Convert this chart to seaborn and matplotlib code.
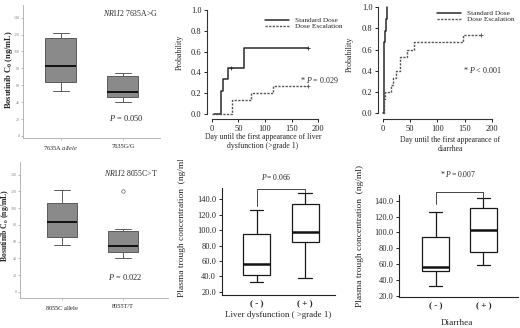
import numpy as np
import pandas as pd
import matplotlib
matplotlib.use("Agg")
import matplotlib.pyplot as plt
from matplotlib.lines import Line2D
from matplotlib.transforms import Bbox
import seaborn as sns

# --- data ---
# left boxes: five-number summaries (min, q1, median, q3, max), ng/mL
groups_7635 = ["7635A allele", "7635G/G"]
c0_7635A = [53, 64, 83, 116, 122]
c0_7635GG = [40, 46, 52, 71, 75]

groups_8055 = ["8055C allele", "8055T/T"]
c0_8055C = [56, 66, 83, 106.6, 122]
c0_8055TT = [40.7, 44, 47, 51, 54.7, 65, 72.6, 75, 120]   # one outlier

# Kaplan-Meier, liver dysfunction
liver_std_days = [5, 17.5, 22, 30, 61, 180]
liver_std_prob = [0, 0.222, 0.333, 0.444, 0.63, 0.63]
liver_std_cens = [36, 180]
liver_esc_days = [1, 37.5, 74, 115, 180]
liver_esc_prob = [0, 0.133, 0.2, 0.267, 0.267]

# Kaplan-Meier, diarrhea
diar_std_days = [0, 2.5, 4.5, 6, 8.5]
diar_std_prob = [0, 0.667, 0.778, 0.889, 1.0]
diar_esc_days = [0, 3, 5, 16, 19, 24, 32, 45, 58, 148, 180]
diar_esc_prob = [0, 0.133, 0.2, 0.267, 0.333, 0.4, 0.533, 0.6, 0.667, 0.733, 0.733]

# trough concentration boxes (min, q1, median, q3, max)
grade_labels = ["( - )", "( + )"]
liver_neg = [32, 41.7, 55.6, 95, 126]
liver_pos = [38, 84.5, 97, 134, 148.6]
diar_neg = [32.6, 51.5, 56, 94, 125.4]
diar_pos = [58.7, 75, 103, 130.4, 143.4]

sns.set_style("ticks")
plt.rcParams["font.family"] = ["Liberation Serif", "DejaVu Serif"]
plt.rcParams["mathtext.fontset"] = "custom"
plt.rcParams["mathtext.rm"] = "Liberation Serif"
plt.rcParams["mathtext.it"] = "Liberation Serif:italic"
plt.rcParams["mathtext.bf"] = "Liberation Serif:bold"

W, H = 520, 328
fig = plt.figure(figsize=(W / 100, H / 100), dpi=100)


def px_axes(l, t, r, b):
    return fig.add_axes([l / W, 1 - b / H, (r - l) / W, (b - t) / H])


def ftext(x, y, s, **kw):
    return fig.text(x / W, 1 - y / H, s, **kw)


def long_df(names, arrays):
    g, v = [], []
    for n, a in zip(names, arrays):
        g += [n] * len(a)
        v += list(a)
    return pd.DataFrame({"group": g, "value": v})


# ---------- left: grey SPSS-style boxes ----------
def grey_box(ax, names, arrays, xlim, ylim, ticklabels):
    sns.boxplot(data=long_df(names, arrays), x="group", y="value", order=names,
                ax=ax, color="#8a8a8a", saturation=1, width=0.5,
                linecolor="#5a5a5a", linewidth=0.7, fliersize=2.5,
                medianprops=dict(color="#111111", linewidth=1.4),
                flierprops=dict(marker="o", markerfacecolor="none",
                                markeredgecolor="#666666", markeredgewidth=0.5))
    ax.set_xlim(*xlim)
    ax.set_ylim(*ylim)
    ax.set_yticks(range(0, 141, 20))
    ax.set_xticks([0, 1])
    ax.set_xticklabels(ticklabels)
    ax.set_xlabel("")
    ax.set_ylabel("")
    for s in ["top", "right"]:
        ax.spines[s].set_visible(False)
    for s in ["left", "bottom"]:
        ax.spines[s].set_color("#aaaaaa")
        ax.spines[s].set_linewidth(0.6)
    ax.tick_params(axis="y", labelsize=3.0, length=1.5, width=0.4,
                   colors="#888888", pad=0.6)
    ax.tick_params(axis="x", labelsize=4.6, length=1.5, width=0.4,
                   color="#999999", labelcolor="#222222", pad=3)


axA = px_axes(23, 5, 160, 138)
grey_box(axA, groups_7635, [c0_7635A, c0_7635GG], (-0.613, 1.6), (-2.4, 155),
         ["7635A $\\mathit{allele}$", "7635G/G"])
axA.text(1.13, 145.6, "$\\mathit{NR1I2}$ 7635A>G", ha="center", va="center",
         fontsize=5.6)
axA.text(1.05, 21.3, "$\\mathit{P}$ = 0.050", ha="center", va="center",
         fontsize=6)

axB = px_axes(20, 162, 168, 298)
grey_box(axB, groups_8055, [c0_8055C, c0_8055TT], (-0.69, 1.74), (-7.5, 155.3),
         ["8055$\\mathit{C}$ allele", "8055T/T"])
axB.text(1.13, 142, "$\\mathit{NR1I2}$ 8055C>T", ha="center", va="center",
         fontsize=5.6)
axB.text(1.03, 18, "$\\mathit{P}$ = 0.022", ha="center", va="center",
         fontsize=6)

ftext(9, 70, "Bosutinib C$_\\mathbf{0}$ (ng/mL)", rotation=90, ha="center",
      va="center", fontsize=6, fontweight="bold")
ftext(5, 225, "Bosutinib C$_\\mathbf{0}$ (ng/mL)", rotation=90, ha="center",
      va="center", fontsize=5.6, fontweight="bold")

# ---------- middle/right top: Kaplan-Meier ----------
std_kw = dict(color="#2a2a2a", linewidth=1.1, linestyle="-")
esc_kw = dict(color="#555555", linewidth=1.0, linestyle=(0, (1.6, 1.0)))


def km_axes(ax, xlim, ylim):
    ax.set_xlim(*xlim)
    ax.set_ylim(*ylim)
    ax.set_xticks(range(0, 201, 50))
    ax.set_yticks(np.arange(0, 1.01, 0.2))
    ax.set_yticklabels([f"{v:.1f}" for v in np.arange(0, 1.01, 0.2)])
    for s in ["top", "right"]:
        ax.spines[s].set_visible(False)
    for s in ["left", "bottom"]:
        ax.spines[s].set_color("#333333")
        ax.spines[s].set_linewidth(0.8)
    ax.spines["bottom"].set_bounds(0, 200)
    ax.spines["left"].set_bounds(0, 1)
    ax.tick_params(labelsize=6, length=2.5, width=0.7, pad=1.5, colors="#222222")
    ax.set_xlabel("")
    ax.set_ylabel("")


def km_legend(ax, anchor):
    handles = [Line2D([], [], **std_kw), Line2D([], [], **esc_kw)]
    ax.legend(handles, ["Standard Dose", "Dose Escalation"], loc="upper left",
              bbox_to_anchor=anchor, frameon=False, fontsize=5.2,
              handlelength=3.3, handletextpad=0.9, labelspacing=0.05,
              borderaxespad=0, borderpad=0)


axC = px_axes(207, 8, 320, 119)
sns.lineplot(x=liver_std_days, y=liver_std_prob, drawstyle="steps-post",
             estimator=None, sort=False, ax=axC, **std_kw)
sns.lineplot(x=liver_esc_days, y=liver_esc_prob, drawstyle="steps-post",
             estimator=None, sort=False, ax=axC, **esc_kw)
sns.scatterplot(x=liver_std_cens, y=[0.444, 0.63], marker="+", s=10,
                color="#2a2a2a", linewidth=0.6, ax=axC)
sns.scatterplot(x=[180], y=[0.267], marker="+", s=10, color="#555555",
                linewidth=0.6, ax=axC)
km_axes(axC, (-8.8, 203), (-0.048, 1.019))
km_legend(axC, ((265 - 207) / 113, (119 - 17) / 111))
axC.text(202, 0.327, "* $\\mathit{P}$ = 0.029", ha="center", va="center",
         fontsize=5.8, clip_on=False)
ftext(263, 137, "Day until the first appearance of liver", ha="center",
      va="center", fontsize=5.6)
ftext(263, 146, "dysfunction (>grade 1)", ha="center", va="center", fontsize=5.6)
ftext(180, 52, "Probability", rotation=90, ha="center", va="center", fontsize=5.8)

axD = px_axes(378, 5, 494, 119.3)
sns.lineplot(x=diar_std_days, y=diar_std_prob, drawstyle="steps-post",
             estimator=None, sort=False, ax=axD, **std_kw)
sns.lineplot(x=diar_esc_days, y=diar_esc_prob, drawstyle="steps-post",
             estimator=None, sort=False, ax=axD, **esc_kw)
sns.scatterplot(x=[180], y=[0.733], marker="+", s=10, color="#555555",
                linewidth=0.6, ax=axD)
km_axes(axD, (-8.6, 204), (-0.057, 1.02))
km_legend(axD, ((437 - 378) / 116, (119.3 - 10) / 114.3))
axD.text(182, 0.41, "* $\\mathit{P}$ < 0.001", ha="center", va="center",
         fontsize=5.8, clip_on=False)
ftext(450, 140, "Day until the first appearance of", ha="center", va="center",
      fontsize=5.6)
ftext(450, 149, "diarrhea", ha="center", va="center", fontsize=5.6)
ftext(350, 54, "Probability", rotation=90, ha="center", va="center", fontsize=5.8)


# ---------- bottom: trough concentration boxes ----------
def white_box(ax, arrays, xlim, ylim):
    sns.boxplot(data=long_df(grade_labels, arrays), x="group", y="value",
                order=grade_labels, ax=ax, color="white", saturation=1,
                width=0.56, linecolor="#1a1a1a", linewidth=0.9,
                medianprops=dict(color="#111111", linewidth=1.8))
    ax.set_xlim(*xlim)
    ax.set_ylim(*ylim)
    ax.set_yticks(range(20, 141, 20))
    ax.set_yticklabels([f"{v:.1f}" for v in range(20, 141, 20)])
    ax.set_xlabel("")
    ax.set_ylabel("")
    for s in ["top", "right"]:
        ax.spines[s].set_visible(False)
    for s in ["left", "bottom"]:
        ax.spines[s].set_color("#222222")
        ax.spines[s].set_linewidth(0.8)
    ax.tick_params(axis="y", labelsize=6, length=2.5, width=0.7, pad=1.5)
    ax.tick_params(axis="x", length=0, pad=4)
    for lab in ax.get_xticklabels():
        lab.set_fontsize(6.6)
        lab.set_fontweight("bold")


def bracket(ax, y0, ytop, y1, label, lx, ly):
    ax.plot([0, 0, 1, 1], [y0, ytop, ytop, y1], color="#444444", lw=0.7,
            clip_on=False)
    ax.text(lx, ly, label, ha="center", va="center", fontsize=5.6,
            clip_on=False)


clip = Bbox.from_extents(0, 0, W, H - 160)

axE = px_axes(221.7, 188, 335, 295)
white_box(axE, [liver_neg, liver_pos], (-0.725, 1.62), (15.7, 154.7))
bracket(axE, 131, 153, 150, "$\\mathit{P=0.066}$", 0.41, 169)
ftext(278, 315, "Liver dysfunction ( >grade 1)", ha="center", va="center",
      fontsize=6.4)
t = ftext(182, 297, "Plasma trough concentration  (ng/mL)", rotation=90,
          ha="center", va="bottom", fontsize=6.8)
t.set_clip_box(clip)

axF = px_axes(399.3, 195, 517.7, 296.7)
white_box(axF, [diar_neg, diar_pos], (-0.765, 1.72), (19.1, 147.2))
bracket(axF, 135.5, 151.4, 143.8, "* $\\mathit{P=0.007}$", 0.47, 173.6)
ftext(456.7, 323, "Diarrhea", ha="center", va="center", fontsize=6.6)
t = ftext(360, 307, "Plasma trough concentration  (ng/ml)", rotation=90,
          ha="center", va="bottom", fontsize=6.8)
t.set_clip_box(clip)

fig.savefig("out.png", dpi=100)
